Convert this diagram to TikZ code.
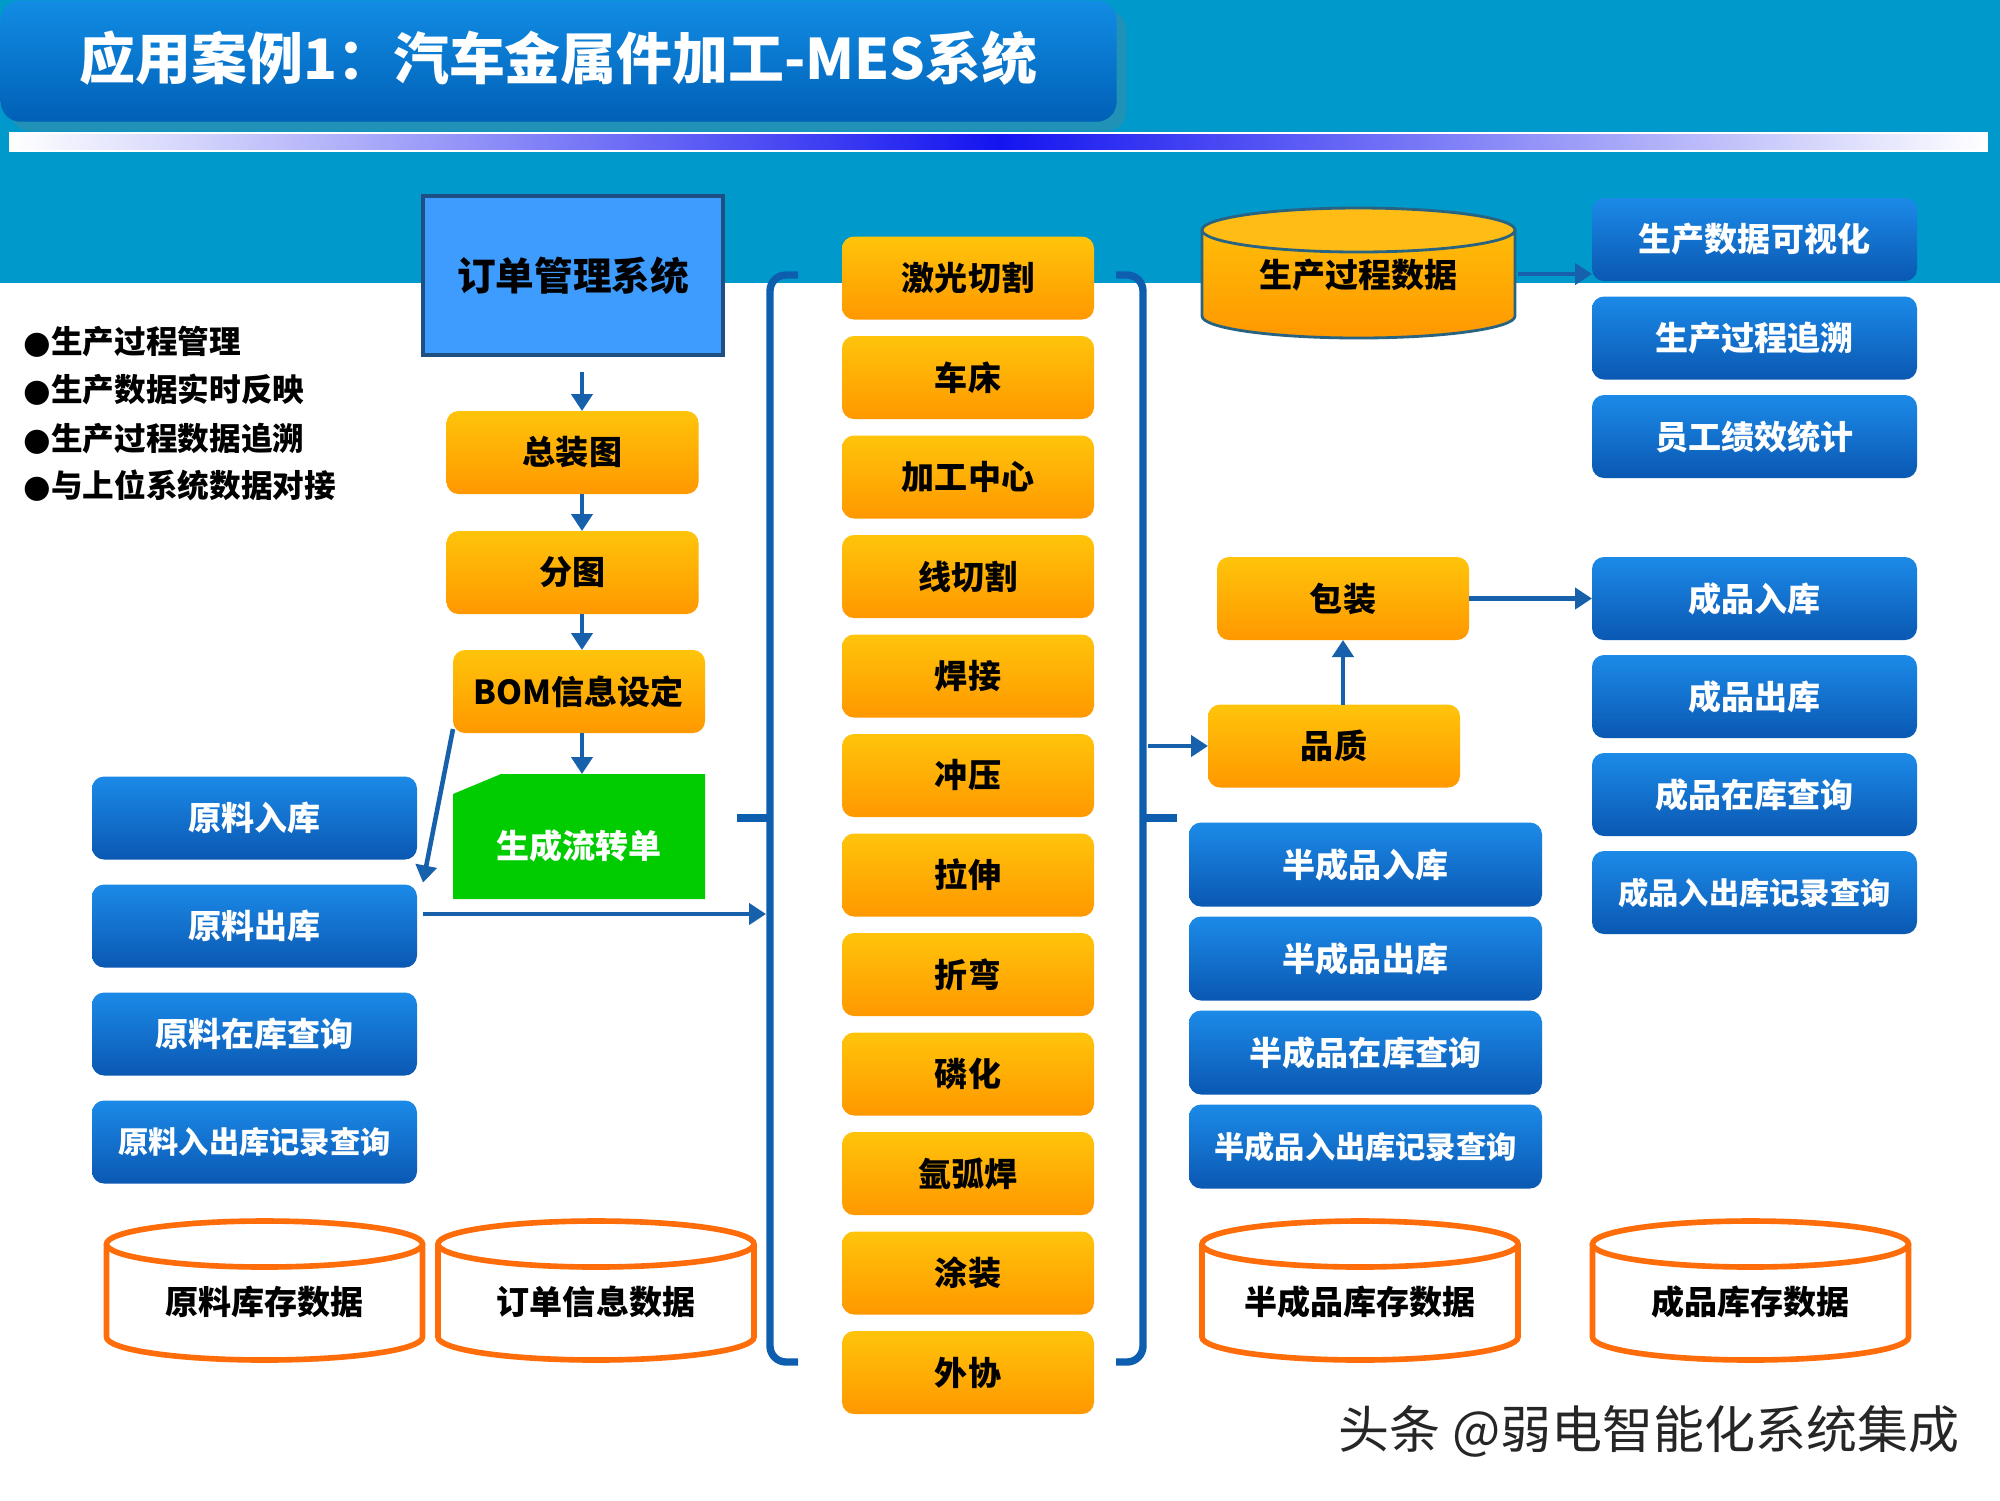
\documentclass[tikz,border=0pt]{standalone}
\usepackage{fontspec}
\setmainfont{Noto Sans CJK SC}
\newfontfamily\symfont{DejaVu Sans}
\usepackage{tikz}
\usetikzlibrary{arrows.meta,positioning,calc,backgrounds,shadows}
\usepackage{xcolor}

\definecolor{bandteal}{RGB}{0,153,204}
\definecolor{ttA}{RGB}{18,140,228}
\definecolor{ttB}{RGB}{0,96,182}
\definecolor{stripeblue}{RGB}{20,20,240}
\definecolor{orA}{RGB}{255,196,10}
\definecolor{orB}{RGB}{255,152,0}
\definecolor{orTop}{RGB}{255,188,20}
\definecolor{blA}{RGB}{28,138,232}
\definecolor{blB}{RGB}{10,88,178}
\definecolor{sysblue}{RGB}{62,156,255}
\definecolor{sysedge}{RGB}{30,78,130}
\definecolor{cardgreen}{RGB}{0,204,0}
\definecolor{arrowblue}{RGB}{22,96,172}
\definecolor{braceblue}{RGB}{14,94,176}
\definecolor{drumorange}{RGB}{255,108,10}
\definecolor{dbedge}{RGB}{40,100,130}

\begin{document}
\begin{tikzpicture}[
node distance=1.65mm,
font=\bfseries,
arrow/.style={-{Triangle[length=1.7mm,width=2.1mm]}, line width=1.3pt, draw=arrowblue},
brace/.style={line width=2.1pt, draw=braceblue, rounded corners=1.6mm},
titlebox/.style={anchor=north west, rounded corners=2mm, top color=ttA, bottom color=ttB, minimum width=11.16cm, minimum height=1.21cm, drop shadow={opacity=0.25}},
sysbox/.style={draw=sysedge, line width=1pt, fill=sysblue, minimum width=3cm, minimum height=1.59cm, font=\fontsize{11}{13}\bfseries\selectfont},
stepproc/.style={rounded corners=1.2mm, top color=orA, bottom color=orB, minimum width=2.52cm, minimum height=0.83cm, inner sep=0pt, outer sep=0pt, font=\fontsize{9.4}{11}\bfseries\selectfont},
modbox/.style={rounded corners=1.2mm, top color=blA, bottom color=blB, text=white, minimum width=3.25cm, minimum height=0.83cm, inner sep=0pt, outer sep=0pt, font=\fontsize{9.4}{11}\bfseries\selectfont},
logbox/.style={modbox, font=\fontsize{8.6}{10}\bfseries\selectfont},
cardtext/.style={text=white, minimum width=2.52cm, minimum height=1.25cm, inner sep=0pt, outer sep=0pt, font=\fontsize{9.4}{11}\bfseries\selectfont},
dbtext/.style={minimum width=3.16cm, minimum height=1.16cm, inner sep=0pt, outer sep=0pt, font=\fontsize{9.4}{11}\bfseries\selectfont},
drumline/.style={draw=drumorange, line width=1.6pt, fill=white},
bullet/.style={anchor=west, inner sep=0pt, font=\fontsize{9}{10}\bfseries\selectfont}
]
\useasboundingbox (0,0) rectangle (20,-15);

% title
\node[titlebox] (title) at (0,0) {};
\node[anchor=west, text=white, inner sep=0pt, font=\fontsize{15.9}{18}\bfseries\selectfont] (titletext) at (0.79,-0.58) {应用案例1：汽车金属件加工-MES系统};

% bullets
\node[bullet] (bul1) at (0.23,-3.42) {{\symfont\small ●}生产过程管理};
\node[bullet] (bul2) at (0.23,-3.90) {{\symfont\small ●}生产数据实时反映};
\node[bullet] (bul3) at (0.23,-4.39) {{\symfont\small ●}生产过程数据追溯};
\node[bullet] (bul4) at (0.23,-4.86) {{\symfont\small ●}与上位系统数据对接};

% order flow
\node[sysbox] (ordsys) at (5.73,-2.755) {订单管理系统};
\node[stepproc] (asm) at (5.725,-4.525) {总装图};
\node[stepproc, below=3.7mm of asm] (part) {分图};
\node[stepproc, below=3.6mm of part, xshift=0.65mm] (bom) {BOM信息设定};
\node[cardtext, below=4.1mm of bom] (card) {\smash{\raisebox{-2.2mm}{生成流转单}}};

% raw material
\node[modbox] (rawin) at (2.545,-8.18) {原料入库};
\node[modbox, below=2.5mm of rawin] (rawout) {原料出库};
\node[modbox, below=2.5mm of rawout] (rawqry) {原料在库查询};
\node[logbox, below=2.5mm of rawqry] (rawlog) {原料入出库记录查询};

% processes
\node[stepproc] (laser) at (9.68,-2.78) {激光切割};
\node[stepproc, below=of laser] (lathe) {车床};
\node[stepproc, below=of lathe] (mcenter) {加工中心};
\node[stepproc, below=of mcenter] (wirecut) {线切割};
\node[stepproc, below=of wirecut] (weld) {焊接};
\node[stepproc, below=of weld] (stamp) {冲压};
\node[stepproc, below=of stamp] (stretch) {拉伸};
\node[stepproc, below=of stretch] (bend) {折弯};
\node[stepproc, below=of bend] (phos) {磷化};
\node[stepproc, below=of phos] (argon) {氩弧焊};
\node[stepproc, below=of argon] (paint) {涂装};
\node[stepproc, below=of paint] (outsrc) {外协};

% right side
\node[dbtext, minimum width=3.13cm, minimum height=1.08cm] (procdb) at (13.585,-2.84) {\smash{\raisebox{-0.3mm}{生产过程数据}}};
\node[modbox] (viz) at (17.545,-2.395) {生产数据可视化};
\node[modbox, below=1.55mm of viz] (trace) {生产过程追溯};
\node[modbox, below=1.55mm of trace] (perf) {员工绩效统计};

\node[stepproc] (pack) at (13.43,-5.985) {包装};
\node[stepproc] (qual) at (13.34,-7.46) {品质};
\node[modbox] (fin1) at (17.545,-5.985) {成品入库};
\node[modbox, below=1.5mm of fin1] (fin2) {成品出库};
\node[modbox, below=1.5mm of fin2] (fin3) {成品在库查询};
\node[logbox, below=1.5mm of fin3] (fin4) {成品入出库记录查询};

\node[modbox, minimum width=3.53cm, minimum height=0.84cm] (semi1) at (13.655,-8.645) {半成品入库};
\node[modbox, minimum width=3.53cm, minimum height=0.84cm, below=1mm of semi1] (semi2) {半成品出库};
\node[modbox, minimum width=3.53cm, minimum height=0.84cm, below=1mm of semi2] (semi3) {半成品在库查询};
\node[logbox, minimum width=3.53cm, minimum height=0.84cm, below=1mm of semi3] (semi4) {半成品入出库记录查询};

% databases
\node[dbtext] (rawdb) at (2.645,-13.02) {原料库存数据};
\node[dbtext] (orddb) at (5.96,-13.02) {订单信息数据};
\node[dbtext] (semidb) at (13.60,-13.02) {半成品库存数据};
\node[dbtext] (findb) at (17.505,-13.02) {成品库存数据};

\node[text=black!85, inner sep=0pt, font=\fontsize{14.5}{17}\selectfont] (mark) at (16.49,-14.31) {头条 @弱电智能化系统集成};

% brackets
\coordinate (lbr) at (7.66,0);
\coordinate (rbr) at (11.48,0);
\coordinate (ax) at (5.82,0);
\draw[brace] (7.98,-2.75) -- (7.70,-2.75) -- (7.70,-13.62) -- (7.98,-13.62);
\draw[brace] (7.70,-8.18) -- (7.37,-8.18);
\draw[brace] (11.16,-2.75) -- (11.43,-2.75) -- (11.43,-13.62) -- (11.16,-13.62);
\draw[brace] (11.43,-8.18) -- (11.77,-8.18);

% arrows
\draw[arrow, shorten <=1.5mm] (ordsys.south -| ax) -- (asm.north -| ax);
\draw[arrow] (asm.south -| ax) -- (part.north -| ax);
\draw[arrow] (part.south -| ax) -- (bom.north -| ax);
\draw[arrow] (bom.south -| ax) -- (card.north -| ax);
\draw[arrow] ([yshift=0.4mm]bom.south west) -- ([xshift=0.6mm,yshift=0.2mm]rawout.north east);
\draw[arrow, shorten <=0.6mm] ([yshift=1.2mm]rawout.east) -- ([yshift=1.2mm]rawout.east -| lbr);
\draw[arrow] (qual.west -| rbr) -- (qual.west);
\draw[arrow] (qual.north -| pack) -- (pack.south);
\draw[arrow] (pack.east) -- (fin1.west);
\draw[arrow, shorten <=0.3mm] ([yshift=1mm]procdb.east) -- ([yshift=1mm]procdb.east -| viz.west);

\begin{scope}[on background layer]
\fill[white] (0,0) rectangle (20,-15);
\fill[bandteal] (0,0) rectangle (20,-2.83);
\draw[white, line width=0.6pt, left color=white, right color=white, middle color=stripeblue] (0.10,-1.33) rectangle (19.87,-1.51);
\fill[cardgreen] (card.south west) -- (card.south east) -- (card.north east) -- ([xshift=4.8mm]card.north west) -- ([yshift=-2mm]card.north west) -- cycle;
\path[top color=orA, bottom color=orB] (procdb.north west) -- ([yshift=2.2mm]procdb.south west) arc[start angle=180, end angle=360, x radius=1.565, y radius=0.22] -- (procdb.north east) arc[start angle=0, end angle=180, x radius=1.565, y radius=0.22] -- cycle;
\draw[dbedge, line width=0.8pt] (procdb.north west) -- ([yshift=2.2mm]procdb.south west) arc[start angle=180, end angle=360, x radius=1.565, y radius=0.22] -- (procdb.north east);
\draw[dbedge, line width=0.8pt, fill=orTop] (procdb.north) ellipse[x radius=1.565, y radius=0.22];
\foreach \n in {rawdb,orddb,semidb,findb} {
  \draw[drumline] (\n.north west) -- ([yshift=2.3mm]\n.south west) arc[start angle=180, end angle=360, x radius=1.58, y radius=0.23] -- (\n.north east);
  \draw[drumline] (\n.north) ellipse[x radius=1.58, y radius=0.23];
}
\end{scope}
\end{tikzpicture}
\end{document}
